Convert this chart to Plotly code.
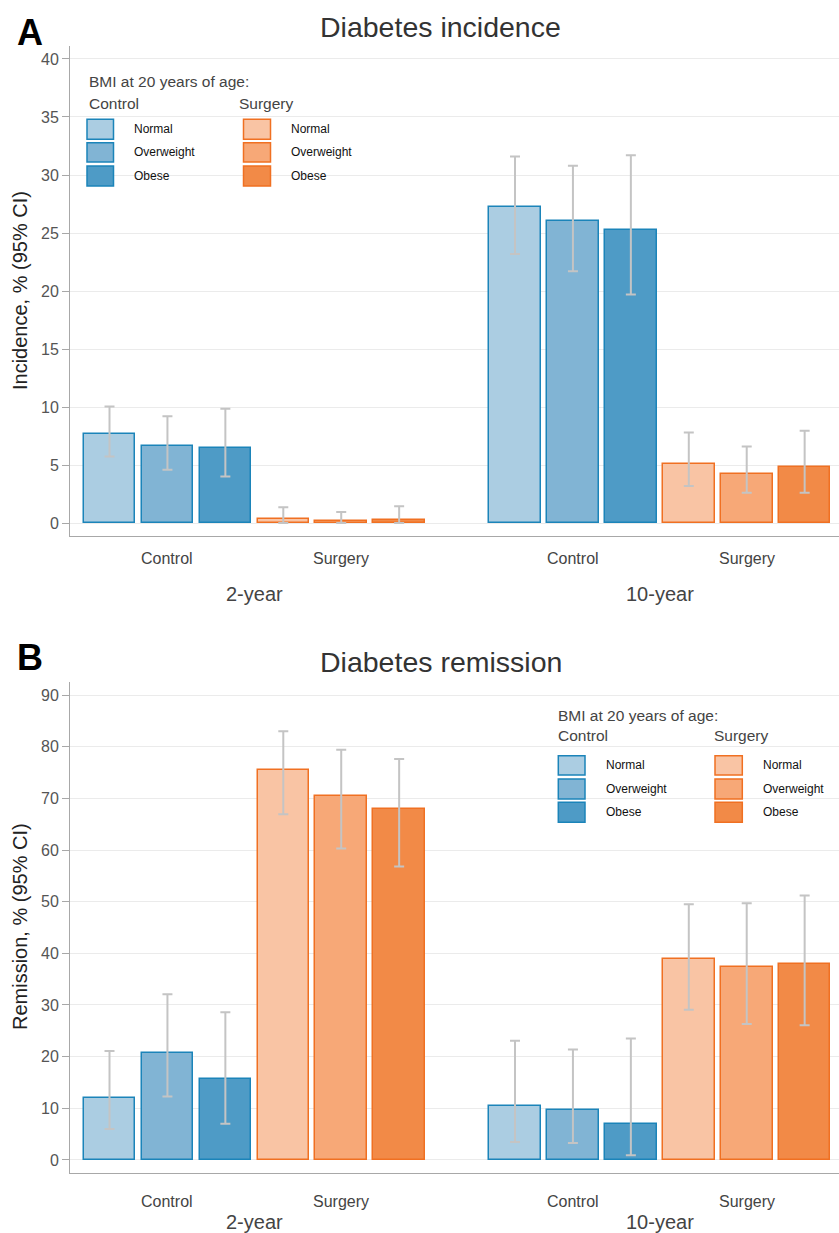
import plotly.graph_objects as go

# ---------------- data ----------------
timepoints = ["2-year", "10-year"]
arms = ["Control", "Surgery"]
bmi_levels = ["Normal", "Overweight", "Obese"]

# order within each list: 2-year Normal, Overweight, Obese, 10-year Normal, Overweight, Obese
inc_control_est = [7.67, 6.60, 6.45, 27.2, 26.0, 25.3]
inc_control_lo = [5.73, 4.60, 4.00, 23.2, 21.7, 19.7]
inc_control_hi = [10.05, 9.20, 9.85, 31.6, 30.8, 31.7]
inc_surgery_est = [0.35, 0.17, 0.26, 5.10, 4.25, 4.80]
inc_surgery_lo = [0.0, 0.0, 0.0, 3.20, 2.60, 2.60]
inc_surgery_hi = [1.35, 0.95, 1.45, 7.80, 6.60, 7.95]

rem_control_est = [12.06, 20.8, 15.6, 10.5, 9.7, 7.0]
rem_control_lo = [6.0, 12.3, 7.0, 3.5, 3.3, 0.9]
rem_control_hi = [21.1, 32.1, 28.6, 23.1, 21.4, 23.5]
rem_surgery_est = [75.5, 70.45, 67.9, 38.9, 37.4, 38.0]
rem_surgery_lo = [66.9, 60.3, 56.8, 29.1, 26.3, 26.1]
rem_surgery_hi = [83.0, 79.4, 77.6, 49.5, 49.7, 51.2]

# ---------------- styles ----------------
W, H = 839, 1233
FONT = "Liberation Sans, Arial, Helvetica, sans-serif"
fills = {
    "Control": ["#abcde2", "#81b4d4", "#4e9bc6"],
    "Surgery": ["#f9c4a4", "#f7a877", "#f28a47"],
}
edges = {"Control": "#1b84b9", "Surgery": "#f07022"}
ERR_COLOR = "#c4c4c4"


def px(x):
    return x / W


def py(y):
    return 1 - y / H


fig = go.Figure()

panels = [
    dict(xa="x", ya="y",
         data={"Control": (inc_control_est, inc_control_lo, inc_control_hi),
               "Surgery": (inc_surgery_est, inc_surgery_lo, inc_surgery_hi)}),
    dict(xa="x2", ya="y2",
         data={"Control": (rem_control_est, rem_control_lo, rem_control_hi),
               "Surgery": (rem_surgery_est, rem_surgery_lo, rem_surgery_hi)}),
]

for p in panels:
    for a_i, arm in enumerate(arms):
        est, lo, hi = p["data"][arm]
        for b_i, lvl in enumerate(bmi_levels):
            xs, ys, up, dn = [], [], [], []
            for t_i, tp in enumerate(timepoints):
                k = t_i * 3 + b_i
                xs.append(t_i * 7 + a_i * 3 + b_i)
                ys.append(est[k])
                up.append(hi[k] - est[k])
                dn.append(est[k] - lo[k])
            fig.add_trace(go.Bar(
                x=xs, y=ys, width=0.89,
                xaxis=p["xa"], yaxis=p["ya"],
                name=f"{arm} {lvl}", showlegend=False,
                marker=dict(color=fills[arm][b_i],
                            line=dict(color=edges[arm], width=1.5)),
                error_y=dict(type="data", symmetric=False, array=up, arrayminus=dn,
                             color=ERR_COLOR, thickness=2, width=5),
            ))

# axes geometry (pixels)
xA_left = 70
x_range = [-0.682, 12.593]
yA_top, yA_bot = 46, 536
yB_top, yB_bot = 682, 1173

common_x = dict(range=x_range, showgrid=False, zeroline=False, showticklabels=False,
                ticks="", showline=True, linecolor="#a8a8a8", linewidth=1,
                domain=[px(xA_left), 1], fixedrange=True)
common_y = dict(showgrid=True, gridcolor="#ebebeb", gridwidth=1, zeroline=False,
                showline=True, linecolor="#a8a8a8", linewidth=1,
                ticks="outside", ticklen=7, tickcolor="#a8a8a8", tickwidth=1,
                tickfont=dict(family=FONT, size=16, color="#555555"), fixedrange=True)

fig.update_layout(
    width=W, height=H,
    margin=dict(l=0, r=0, t=0, b=0),
    paper_bgcolor="white", plot_bgcolor="white",
    barmode="overlay", bargap=0,
    font=dict(family=FONT),
    xaxis=dict(**common_x, anchor="y"),
    yaxis=dict(**common_y, anchor="x", range=[-1.12, 41.12], tickvals=[0, 5, 10, 15, 20, 25, 30, 35, 40],
               domain=[py(yA_bot), py(yA_top)]),
    xaxis2=dict(**common_x, anchor="y2"),
    yaxis2=dict(**common_y, anchor="x2", range=[-2.52, 92.52], tickvals=list(range(0, 91, 10)),
                domain=[py(yB_bot), py(yB_top)]),
)

ann = []
shapes = []

# panel letters and titles
for letter, ly, title, ty in [("A", 32, "Diabetes incidence", 27), ("B", 657, "Diabetes remission", 662)]:
    ann.append(dict(text=f"<b>{letter}</b>", x=px(30), y=py(ly), xref="paper", yref="paper",
                    xanchor="center", yanchor="middle", showarrow=False,
                    font=dict(family=FONT, size=36, color="#000000")))
    ann.append(dict(text=title, x=px(440.5), y=py(ty), xref="paper", yref="paper",
                    xanchor="center", yanchor="middle", showarrow=False,
                    font=dict(family=FONT, size=28.5, color="#333333")))

# y-axis titles
for txt, cy in [("Incidence, % (95% CI)", 291), ("Remission, % (95% CI)", 927)]:
    ann.append(dict(text=txt, x=px(20), y=py(cy), xref="paper", yref="paper", textangle=-90,
                    xanchor="center", yanchor="middle", showarrow=False,
                    font=dict(family=FONT, size=20, color="#222222")))

# category labels (x axes)
for xa, cat_y, tp_y in [("x", 558, 594), ("x2", 1201, 1222)]:
    for t_i, tp in enumerate(timepoints):
        for a_i, arm in enumerate(arms):
            ann.append(dict(text=arm, x=t_i * 7 + a_i * 3 + 1, y=py(cat_y), xref=xa, yref="paper",
                            xanchor="center", yanchor="middle", showarrow=False,
                            font=dict(family=FONT, size=16, color="#444444")))
        ann.append(dict(text=tp, x=t_i * 7 + 2.5, y=py(tp_y), xref=xa, yref="paper",
                        xanchor="center", yanchor="middle", showarrow=False,
                        font=dict(family=FONT, size=20, color="#444444")))

# legends (drawn manually)
legend_specs = [
    dict(x0=87, head_y=82, arm_y=104, box_rows=[(119.3, 139.3), (142.7, 162.0), (166.0, 186.0)],
         box_x=[(87, 113.5), (243.5, 270.5)], lab_x=[132, 289], arm_x=[87, 237]),
    dict(x0=556, head_y=715, arm_y=735, box_rows=[(755.7, 775.0), (779.0, 799.0), (802.3, 822.3)],
         box_x=[(558.3, 585), (715, 742.3)], lab_x=[604, 761.3], arm_x=[556, 712.3]),
]
for L in legend_specs:
    ann.append(dict(text="BMI at 20 years of age:", x=px(L["x0"]), y=py(L["head_y"]), xref="paper",
                    yref="paper", xanchor="left", yanchor="middle", showarrow=False,
                    font=dict(family=FONT, size=15.5, color="#444444")))
    for a_i, arm in enumerate(arms):
        ann.append(dict(text=arm, x=px(L["arm_x"][a_i]), y=py(L["arm_y"]), xref="paper", yref="paper",
                        xanchor="left", yanchor="middle", showarrow=False,
                        font=dict(family=FONT, size=15.5, color="#444444")))
        bx0, bx1 = L["box_x"][a_i]
        for b_i, lvl in enumerate(bmi_levels):
            by0, by1 = L["box_rows"][b_i]
            shapes.append(dict(type="rect", xref="paper", yref="paper",
                               x0=px(bx0), x1=px(bx1), y0=py(by1), y1=py(by0),
                               fillcolor=fills[arm][b_i], line=dict(color=edges[arm], width=1.5)))
            ann.append(dict(text=lvl, x=px(L["lab_x"][a_i]), y=py((by0 + by1) / 2), xref="paper",
                            yref="paper", xanchor="left", yanchor="middle", showarrow=False,
                            font=dict(family=FONT, size=12, color="#111111")))

fig.update_layout(annotations=ann, shapes=shapes)
fig.write_html("out.html", config={"displayModeBar": False},
               post_script="document.body.style.margin='0';document.body.style.overflow='hidden';")
